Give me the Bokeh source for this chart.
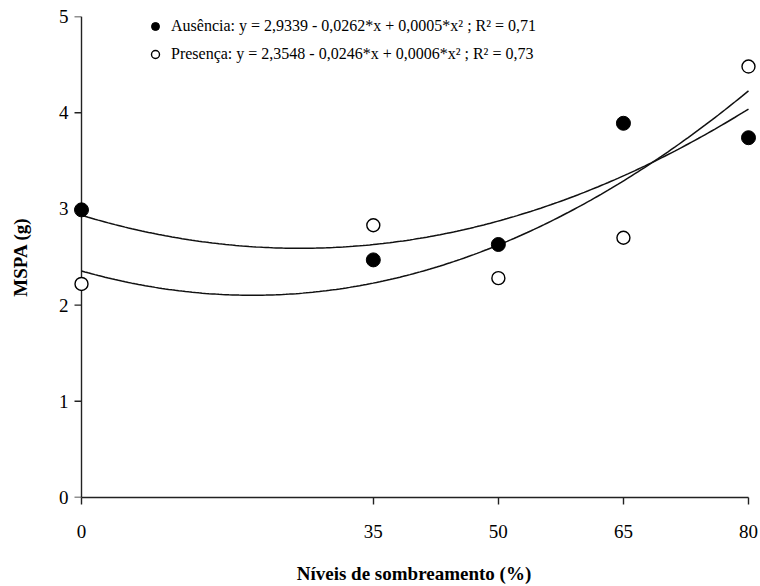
import numpy as np
from bokeh.plotting import figure
from bokeh.models import Range1d, FixedTicker, Legend, LegendItem, ColumnDataSource, Span
from bokeh.embed import file_html
from bokeh.resources import INLINE

# Shading levels (%) and shoot dry mass (g)
niveis = [0, 35, 50, 65, 80]
ausencia = [2.99, 2.47, 2.63, 3.89, 3.74]
presenca = [2.22, 2.83, 2.28, 2.70, 4.48]

# Fitted quadratic regressions (b0, b1, b2)
coef_ausencia = (2.9339, -0.0262, 0.0005)
coef_presenca = (2.3548, -0.0246, 0.0006)

label_ausencia = "Ausência: y = 2,9339 - 0,0262*x + 0,0005*x² ; R² = 0,71"
label_presenca = "Presença: y = 2,3548 - 0,0246*x + 0,0006*x² ; R² = 0,73"

x_ticks = [0, 35, 50, 65, 80]
y_ticks = [0, 1, 2, 3, 4, 5]

FONT = "Liberation Serif"
INK = "#222222"

p = figure(width=760, height=586, output_backend="svg", toolbar_location=None,
           x_range=Range1d(-1.2, 80.96), y_range=Range1d(0, 5),
           min_border_left=71, min_border_right=4, min_border_top=16, min_border_bottom=89)
p.outline_line_color = None
p.grid.visible = False
p.background_fill_color = "white"

# y axis line and outward ticks sitting at x = 0
p.add_layout(Span(location=0, dimension="height", line_color=INK, line_width=1.4, level="underlay"))
p.ray(x=[0] * len(y_ticks), y=y_ticks, length=7, length_units="screen", angle=np.pi,
      line_color=INK, line_width=1.4)

xs = np.linspace(0, 80, 200)
def quad(c, x):
    return c[0] + c[1] * x + c[2] * x ** 2

p.line(xs, quad(coef_ausencia, xs), line_color="#111111", line_width=1.5)
p.line(xs, quad(coef_presenca, xs), line_color="#111111", line_width=1.5)

src = ColumnDataSource(dict(x=niveis, a=ausencia, b=presenca))
r_a = p.scatter("x", "a", source=src, size=14, fill_color="black", line_color="black")
r_b = p.scatter("x", "b", source=src, size=13, fill_color="white", line_color="black", line_width=1.4)

def style_text(ax):
    ax.major_label_text_font = FONT
    ax.major_label_text_font_size = "19px"
    ax.major_label_text_color = "black"
    ax.axis_label_text_font = FONT
    ax.axis_label_text_font_size = "19px"
    ax.axis_label_text_font_style = "bold"
    ax.axis_label_text_color = "black"
    ax.minor_tick_line_color = None

# x axis: line, ticks and labels
xa = p.xaxis[0]
style_text(xa)
xa.axis_line_color = INK
xa.axis_line_width = 1.4
xa.major_tick_line_color = INK
xa.major_tick_line_width = 1.4
xa.major_tick_in = 0
xa.major_tick_out = 7
xa.ticker = FixedTicker(ticks=x_ticks)
xa.bounds = (0, 80)
xa.major_label_standoff = 20
xa.axis_label = "Níveis de sombreamento (%)"
xa.axis_label_standoff = 22

# y axis at the frame edge: labels only
ya = p.yaxis[0]
style_text(ya)
ya.axis_line_color = None
ya.major_tick_line_color = None
ya.major_tick_in = 0
ya.major_tick_out = 0
ya.ticker = FixedTicker(ticks=y_ticks)
ya.major_label_standoff = 3
ya.axis_label = "MSPA (g)"
ya.axis_label_standoff = 25

legend = Legend(items=[LegendItem(label=label_ausencia, renderers=[r_a]),
                       LegendItem(label=label_presenca, renderers=[r_b])],
                location=(74, 433))
legend.border_line_color = None
legend.background_fill_alpha = 0
legend.padding = 0
legend.margin = 0
legend.spacing = 8
legend.glyph_width = 20
legend.glyph_height = 20
legend.label_height = 20
legend.label_standoff = 6
legend.label_text_font = FONT
legend.label_text_font_size = "16px"
legend.label_text_color = "black"
p.add_layout(legend, "center")

open("out.html", "w").write(file_html(p, INLINE))
